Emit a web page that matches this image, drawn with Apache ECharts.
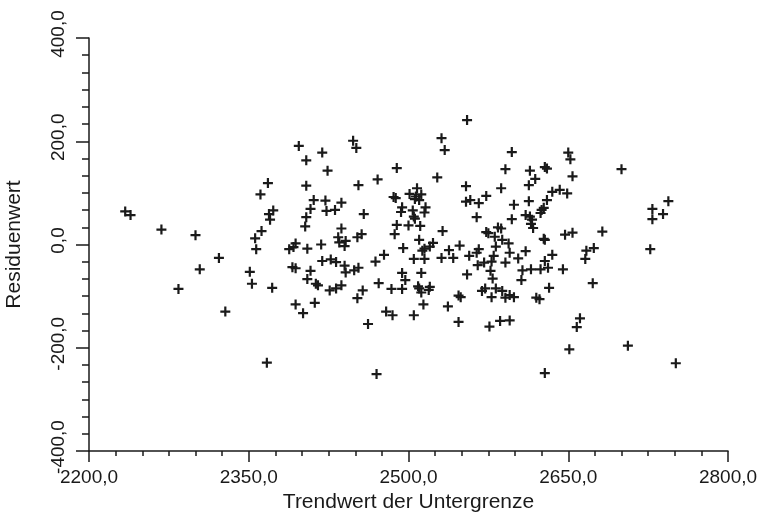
<!DOCTYPE html>
<html>
<head>
<meta charset="utf-8">
<script src="https://cdn.jsdelivr.net/npm/echarts@6/dist/echarts.min.js"></script>
<style>
  html, body { margin: 0; padding: 0; background: #fff; }
  #chart { width: 762px; height: 514px; }
</style>
</head>
<body>
<div id="chart"></div>
<script>
// Trendwert (x) und Residuenwert (y)
var trendValues = [
    2234,2239,2268,2300,2284,2322,2304,2351,2353,2372,2391,2394,2328,2394,2367,
    2397,2419,2404,2424,2448,2451,2489,2368,2361,2404,2453,2471,2486,2488,2411,
    2422,2437,2408,2423,2431,2458,2373,2369,2370,2404,2403,2362,2356,2357,2437,
    2489,2487,2452,2456,2434,2435,2441,2440,2394,2388,2392,2405,2418,2477,2419,
    2427,2432,2408,2405,2413,2415,2440,2441,2449,2453,2469,2426,2432,2437,2457,
    2452,2472,2412,2401,2462,2479,2485,2484,2494,2494,2497,2505,2515,2512,2509,
    2512,2510,2519,2520,2514,2505,2470,2531,2542,2537,2547,2549,2547,2555,2565,
    2571,2578,2577,2579,2569,2572,2578,2576,2557,2580,2591,2603,2582,2588,2591,
    2595,2599,2607,2615,2624,2631,2628,2645,2666,2606,2632,2620,2623,2673,2586,
    2595,2661,2658,2651,2706,2751,2628,2555,2531,2534,2597,2650,2652,2527,2591,
    2614,2628,2630,2654,2619,2613,2554,2587,2508,2501,2507,2512,2510,2506,2554,
    2558,2566,2573,2613,2599,2630,2635,2642,2649,2494,2493,2504,2505,2506,2516,
    2515,2564,2597,2610,2614,2616,2615,2617,2625,2627,2624,2500,2511,2532,2573,
    2575,2581,2584,2587,2588,2594,2627,2628,2647,2654,2510,2523,2520,2513,2515,
    2495,2548,2538,2566,2564,2582,2595,2610,2635,
    2700,2744,2729,2739,2729,2682,2667,2674,2727
];

var residuals = [
    64,57,29,18,-86,-26,-48,-53,-76,-84,-44,-46,-130,-116,-229,
    191,178,163,143,201,187,148,119,97,114,115,126,92,90,86,
    85,81,69,65,67,59,66,59,48,53,35,26,12,-9,31,
    38,20,14,20,14,4,7,-3,2,-9,-5,-8,0,-20,-32,
    -29,-34,-51,-67,-76,-79,-41,-54,-50,-45,-33,-89,-85,-79,-89,
    -104,-75,-113,-133,-154,-130,-137,-86,-86,-55,-69,-28,-28,-55,-81,
    -93,-85,-88,-82,-116,-137,-251,-26,-26,-120,-99,-102,-150,-58,-40,
    -35,-33,-51,-66,-90,-85,-102,-159,-22,-22,-35,-27,-85,-90,-103,
    -98,-102,-50,-48,-48,-45,-32,-48,-28,-69,-84,-103,-106,-75,-148,
    -147,-143,-160,-203,-196,-230,-249,241,206,183,179,178,165,130,146,
    143,150,147,132,127,115,113,109,109,98,93,97,86,88,83,
    86,80,94,84,77,86,102,106,99,72,63,66,54,50,72,
    62,53,49,57,54,48,40,32,67,71,61,37,36,26,24,
    22,15,33,31,9,2,11,9,19,23,9,3,-4,-12,-8,
    -7,-2,-11,-9,-16,-4,-16,-13,-20,
    146,84,69,59,49,25,-12,-7,-9
];

var xTicks = [2200, 2350, 2500, 2650, 2800];
var yTicks = [-400, -200, 0, 200, 400];

var xName = 'Trendwert der Untergrenze';
var yName = 'Residuenwert';

var points = [];
for (var i = 0; i < trendValues.length; i++) {
    points.push([trendValues[i], residuals[i]]);
}

var fmt = function (v) {
    return v.toFixed(1).replace('.', ',');
};

var ink = '#1a1a1a';
var font = 'Liberation Sans, Arial, sans-serif';

var myChart = echarts.init(document.getElementById('chart'));

var option = {
    backgroundColor: '#fff',
    animation: false,
    grid: {
        left: 89,
        right: 34,
        top: 38,
        bottom: 63,
        containLabel: false,
        outerBoundsMode: 'none'
    },
    xAxis: {
        type: 'value',
        min: xTicks[0],
        max: xTicks[xTicks.length - 1],
        interval: xTicks[1] - xTicks[0],
        name: xName,
        nameLocation: 'middle',
        nameGap: 40,
        nameTextStyle: { color: ink, fontSize: 21, fontFamily: font },
        axisLine: { onZero: false, lineStyle: { color: ink, width: 1.5 } },
        axisTick: { length: 11, lineStyle: { color: ink, width: 1.5 } },
        minorTick: { show: true, splitNumber: 6, length: 5, lineStyle: { color: ink, width: 1.5 } },
        axisLabel: { color: ink, fontSize: 19, fontFamily: font, margin: 17, formatter: fmt },
        splitLine: { show: false }
    },
    yAxis: {
        type: 'value',
        min: yTicks[0],
        max: yTicks[yTicks.length - 1],
        interval: yTicks[1] - yTicks[0],
        name: yName,
        nameLocation: 'middle',
        nameGap: 64,
        nameTextStyle: { color: ink, fontSize: 21, fontFamily: font },
        axisLine: { onZero: false, lineStyle: { color: ink, width: 1.5 } },
        axisTick: { length: 13, lineStyle: { color: ink, width: 1.5 } },
        minorTick: { show: true, splitNumber: 6, length: 7, lineStyle: { color: ink, width: 1.5 } },
        axisLabel: {
            color: ink, fontSize: 19, fontFamily: font, margin: 21, rotate: 90,
            padding: [0, 0, 0, 8], formatter: fmt
        },
        splitLine: { show: false }
    },
    series: [{
        type: 'scatter',
        data: points,
        symbol: 'path://M3.9,0h2.2v10h-2.2zM0,3.9h10v2.2h-10z',
        symbolSize: 10,
        itemStyle: { color: ink, opacity: 1 }
    }]
};

myChart.setOption(option);
</script>
</body>
</html>
